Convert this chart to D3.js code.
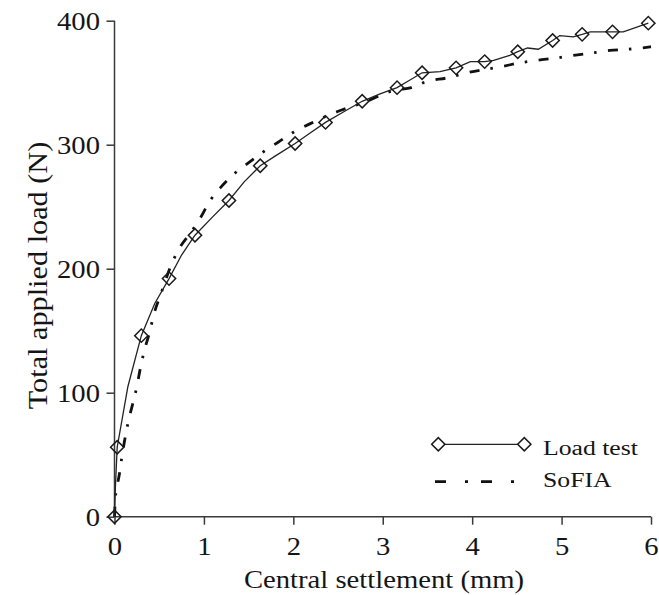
<!DOCTYPE html>
<html>
<head>
<meta charset="utf-8">
<script src="https://cdn.jsdelivr.net/npm/d3@7"></script>
<style>
	html, body { margin: 0; padding: 0; background: #fff; overflow: hidden; }
	svg { display: block; }
	text { font-family: "Liberation Serif", "Times New Roman", serif; fill: #151515; }
</style>
</head>
<body>
<div id="chart"></div>
<script>
// DATA
const loadLineX = [0, 0.01, 0.03, 0.15, 0.30, 0.45, 0.61, 0.75, 0.90, 1.10, 1.28, 1.45, 1.63, 1.80, 2.02, 2.20, 2.36, 2.55, 2.77, 2.97, 3.16, 3.30, 3.44, 3.64, 3.82, 3.98, 4.14, 4.24, 4.42, 4.51, 4.62, 4.74, 4.90, 4.98, 5.13, 5.23, 5.32, 5.57, 5.69, 5.97];
const loadLineY = [0, 24, 56, 105, 146, 172, 192, 211, 227, 242, 255, 270, 283, 291, 301, 310, 318, 326, 335, 341, 346, 352, 358, 359, 362, 367, 367, 368, 372, 375, 378, 377, 384, 388, 387, 389, 391, 391, 391, 398];
const loadMarkX = [0, 0.03, 0.30, 0.61, 0.90, 1.28, 1.63, 2.02, 2.36, 2.77, 3.16, 3.44, 3.82, 4.14, 4.51, 4.90, 5.23, 5.57, 5.97];
const loadMarkY = [0, 56, 146, 192, 227, 255, 283, 301, 318, 335, 346, 358, 362, 367, 375, 384, 389, 391, 398];
const sofiaX = [0, 0.01, 0.03, 0.054, 0.08, 0.117, 0.155, 0.2, 0.25, 0.29, 0.33, 0.39, 0.44, 0.52, 0.64, 0.73, 0.86, 0.96, 1.07, 1.18, 1.33, 1.49, 1.66, 1.83, 2.0, 2.19, 2.54, 2.75, 3.14, 3.32, 3.49, 3.73, 3.94, 4.33, 4.53, 4.72, 4.95, 5.13, 5.34, 5.54, 5.75, 5.95, 6.0];
const sofiaY = [0, 15, 25, 34, 47, 63, 77, 90, 105, 120, 133, 148, 163, 180, 204, 217, 230, 241, 255, 265, 276, 285, 294, 302, 310, 317, 328, 333, 344, 346, 351, 354, 358, 363, 366, 368, 370, 372, 374, 376, 377, 378.5, 379];
const xTicks = [0, 1, 2, 3, 4, 5, 6];
const yTicks = [0, 100, 200, 300, 400];
const seriesNames = ["Load test", "SoFIA"];

const width = 659, height = 595;
const margin = { top: 20.7, right: 8, bottom: 78.3, left: 114.5 };
const innerWidth = width - margin.left - margin.right;
const innerHeight = height - margin.top - margin.bottom;

const svg = d3.select("#chart").append("svg")
	.attr("width", width).attr("height", height);
svg.append("rect").attr("width", width).attr("height", height).attr("fill", "#fff");
const g = svg.append("g").attr("transform", `translate(${margin.left},${margin.top})`);

// SCALES
const xScale = d3.scaleLinear().domain([0, 6]).range([0, innerWidth]);
const yScale = d3.scaleLinear().domain([0, 400]).range([innerHeight, 0]);

const axisColor = "#3a3a3a";

// the lettering in the figure is wider than Times, so widen it with textLength
const widen = (sel, k) => sel.each(function () {
	const len = this.getComputedTextLength();
	d3.select(this).attr("textLength", len * k).attr("lengthAdjust", "spacingAndGlyphs");
});

// X AXIS
const xAxisG = g.append("g").attr("transform", `translate(0,${innerHeight})`)
	.call(d3.axisBottom(xScale).tickValues(xTicks).tickFormat(d3.format("d")).tickSize(8).tickPadding(13));
// Y AXIS
const yAxisG = g.append("g")
	.call(d3.axisLeft(yScale).tickValues(yTicks).tickFormat(d3.format("d")).tickSize(8).tickPadding(6.5));

[xAxisG, yAxisG].forEach(a => {
	a.selectAll("path, line").attr("stroke", axisColor).attr("stroke-width", 1.5);
	a.selectAll("text").attr("font-size", 24.5).attr("font-family", null).attr("fill", null);
	widen(a.selectAll("text"), 1.17);
});
xAxisG.select(".domain").attr("d", `M0,0H${innerWidth}`);
yAxisG.select(".domain").attr("d", `M0,${innerHeight}V0`);
yAxisG.selectAll("text").attr("dy", "0.34em");

// AXIS TITLES
svg.append("text")
	.attr("x", 384).attr("y", 588)
	.attr("text-anchor", "middle").attr("font-size", 24.5)
	.text("Central settlement (mm)")
	.call(widen, 1.17);
svg.append("text")
	.attr("transform", "translate(46.5,275.5) rotate(-90)")
	.attr("text-anchor", "middle").attr("font-size", 27.5)
	.text("Total applied load (N)")
	.call(widen, 1.1);

// LINES
const loadLine = loadLineX.map((x, i) => ({ x: x, y: loadLineY[i] }));
const loadMarks = loadMarkX.map((x, i) => ({ x: x, y: loadMarkY[i] }));
const sofia = sofiaX.map((x, i) => ({ x: x, y: sofiaY[i] }));

const line = d3.line().x(d => xScale(d.x)).y(d => yScale(d.y));
const smooth = d3.line().x(d => xScale(d.x)).y(d => yScale(d.y)).curve(d3.curveMonotoneX);

g.append("path").datum(sofia)
	.attr("d", smooth)
	.attr("fill", "none").attr("stroke", "#111")
	.attr("stroke-width", 2.8).attr("stroke-dasharray", "10,11,2.5,11.5");

g.append("path").datum(loadLine)
	.attr("d", line)
	.attr("fill", "none").attr("stroke", "#222").attr("stroke-width", 1.3);

const diamond = d3.symbol().type(d3.symbolSquare).size(88);
g.selectAll(".mark").data(loadMarks).enter().append("path")
	.attr("class", "mark")
	.attr("d", diamond)
	.attr("transform", d => `translate(${xScale(d.x)},${yScale(d.y)}) rotate(45)`)
	.attr("fill", "none").attr("stroke", "#1a1a1a").attr("stroke-width", 1.5);

// LEGEND
const legend = svg.append("g");
legend.append("line")
	.attr("x1", 438.3).attr("x2", 524.3).attr("y1", 444.3).attr("y2", 444.3)
	.attr("stroke", "#222").attr("stroke-width", 1.3);
legend.selectAll(".lmark").data([438.3, 524.3]).enter().append("path")
	.attr("class", "lmark")
	.attr("d", diamond)
	.attr("transform", d => `translate(${d},444.3) rotate(45)`)
	.attr("fill", "#fff").attr("stroke", "#1a1a1a").attr("stroke-width", 1.5);
legend.append("line")
	.attr("x1", 435).attr("x2", 514).attr("y1", 481.7).attr("y2", 481.7)
	.attr("stroke", "#111").attr("stroke-width", 2.8).attr("stroke-dasharray", "11,19,3,13");
legend.selectAll(".ltext").data(seriesNames).enter().append("text")
	.attr("class", "ltext")
	.attr("x", 543).attr("y", (d, i) => i ? 486.7 : 454.5)
	.attr("font-size", 21.6)
	.text(d => d)
	.call(widen, 1.19);
</script>
</body>
</html>
